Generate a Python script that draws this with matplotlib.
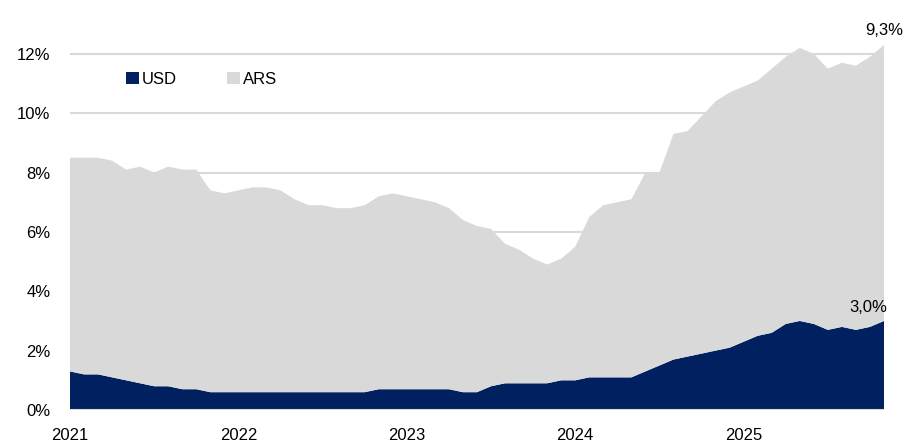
import numpy as np
import matplotlib
matplotlib.use('Agg')
import matplotlib.pyplot as plt

plt.rcParams['font.family'] = ['Liberation Sans', 'DejaVu Sans']

# 月度数据 2021-01 .. 2025-11
usd = [1.3, 1.2, 1.2, 1.1, 1.0, 0.9, 0.8, 0.8, 0.7, 0.7,
       0.6, 0.6, 0.6, 0.6, 0.6, 0.6, 0.6, 0.6, 0.6, 0.6, 0.6, 0.6,
       0.7, 0.7, 0.7, 0.7, 0.7, 0.7, 0.6, 0.6, 0.8, 0.9, 0.9, 0.9, 0.9,
       1.0, 1.0, 1.1, 1.1, 1.1, 1.1, 1.3, 1.5, 1.7, 1.8, 1.9, 2.0, 2.1,
       2.3, 2.5, 2.6, 2.9, 3.0, 2.9, 2.7, 2.8, 2.7, 2.8, 3.0]
ars = [7.2, 7.3, 7.3, 7.3, 7.1, 7.3, 7.2, 7.4, 7.4, 7.4,
       6.8, 6.7, 6.8, 6.9, 6.9, 6.8, 6.5, 6.3, 6.3, 6.2, 6.2, 6.3,
       6.5, 6.6, 6.5, 6.4, 6.3, 6.1, 5.8, 5.6, 5.3, 4.7, 4.5, 4.2, 4.0,
       4.1, 4.5, 5.4, 5.8, 5.9, 6.0, 6.7, 6.5, 7.6, 7.6, 8.0, 8.4, 8.6,
       8.6, 8.6, 8.9, 9.0, 9.2, 9.1, 8.8, 8.9, 8.9, 9.1, 9.3]
years = ['2021', '2022', '2023', '2024', '2025']
yticks = [0, 2, 4, 6, 8, 10, 12]

usd_color = '#002060'
ars_color = '#d9d9d9'

x = np.arange(len(usd))

fig = plt.figure(figsize=(9.24, 4.44), dpi=100)
ax = fig.add_axes([70 / 924, 1 - 410 / 444, 814 / 924, (410 - 39) / 444])

ax.stackplot(x, usd, ars, colors=[usd_color, ars_color], labels=['USD', 'ARS'],
             linewidth=0, zorder=2)

ax.set_xlim(0, len(usd) - 1)
ax.set_ylim(0, 12.5)
ax.set_yticks(yticks)
ax.set_yticklabels([f'{v}%' for v in yticks])
ax.set_xticks([12 * i for i in range(len(years))])
ax.set_xticklabels(years)
ax.grid(axis='y', color='#d9d9d9', linewidth=1.5, zorder=0)
ax.set_axisbelow(True)
for s in ax.spines.values():
    s.set_visible(False)
ax.axhline(0, color='#d9d9d9', linewidth=1.5, zorder=3)
ax.tick_params(axis='both', length=0, labelsize=12, colors='#000000')
ax.tick_params(axis='y', pad=14)
ax.tick_params(axis='x', pad=13)

# 末端数值标注
ax.text(len(usd) - 1, usd[-1] + ars[-1] + 0.47, '9,3%', ha='center', va='center', fontsize=12)
ax.text(len(usd) - 0.8, usd[-1] + 0.44, '3,0%', ha='right', va='center', fontsize=12)

ax.legend(loc='upper left', bbox_to_anchor=(0.061, 0.93), ncol=2, frameon=False,
          fontsize=12, handlelength=0.75, handleheight=0.75, handletextpad=0.2,
          columnspacing=3.0, borderaxespad=0)

fig.savefig('out.png', dpi=100)
